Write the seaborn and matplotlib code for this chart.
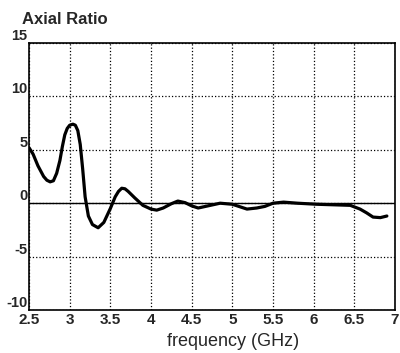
import matplotlib
matplotlib.use("Agg")
import matplotlib.pyplot as plt
import seaborn as sns
import pandas as pd

freq = [2.5, 2.55, 2.61, 2.68, 2.72, 2.76, 2.8, 2.84, 2.88, 2.91, 2.94, 2.97, 3.0, 3.04, 3.07,
        3.1, 3.13, 3.16, 3.19, 3.23, 3.28, 3.35, 3.42, 3.5, 3.56, 3.6, 3.64, 3.68, 3.72, 3.8,
        3.9, 4.0, 4.07, 4.15, 4.25, 4.33, 4.42, 4.5, 4.58, 4.7, 4.85, 5.0, 5.1, 5.18, 5.3,
        5.4, 5.5, 5.63, 5.8, 6.04, 6.25, 6.45, 6.57, 6.65, 6.73, 6.82, 6.9]
axial_ratio = [5.2, 4.6, 3.5, 2.5, 2.15, 2.0, 2.1, 2.8, 4.0, 5.3, 6.4, 7.0, 7.3, 7.4, 7.3,
               6.8, 5.5, 3.2, 0.6, -1.2, -2.0, -2.3, -1.8, -0.5, 0.6, 1.1, 1.4, 1.35, 1.1, 0.5,
               -0.2, -0.55, -0.65, -0.45, -0.05, 0.2, 0.05, -0.25, -0.45, -0.25, 0.0, -0.1, -0.35, -0.55, -0.45,
               -0.3, 0.0, 0.1, 0.0, -0.1, -0.15, -0.2, -0.55, -0.9, -1.3, -1.35, -1.2]
x_ticks = [2.5, 3, 3.5, 4, 4.5, 5, 5.5, 6, 6.5, 7]
x_tick_labels = ["2.5", "3", "3.5", "4", "4.5", "5", "5.5", "6", "6.5", "7"]
y_ticks = [-10, -5, 0, 5, 10, 15]
y_tick_labels = ["-10", "-5", "0", "5", "10", "15"]

sns.set_style("white")
plt.rcParams["font.family"] = ["Liberation Sans", "DejaVu Sans"]

df = pd.DataFrame({"freq": freq, "ar": axial_ratio})

fig = plt.figure(figsize=(4.0, 3.53), dpi=100)
ax = fig.add_axes([29 / 400, 1 - 310 / 353, 366 / 400, 267 / 353])

ax.axhline(0, color="black", lw=1.0, zorder=1)
sns.lineplot(data=df, x="freq", y="ar", ax=ax, color="black", lw=2.3, zorder=3)

ax.set_xlim(2.5, 7)
ax.set_ylim(-10, 15)
ax.set_xticks(x_ticks)
ax.set_xticklabels(x_tick_labels, fontsize=11, fontweight="bold")
ax.set_yticks(y_ticks)
ax.set_yticklabels(y_tick_labels, fontsize=10.5, fontweight="bold", va="bottom")
ax.tick_params(axis="x", length=0, pad=2)
ax.tick_params(axis="y", length=0, pad=1)
ax.grid(True, color="black", linestyle=":", lw=0.9)
for s in ax.spines.values():
    s.set_color("black")
    s.set_linewidth(1.2)

ax.set_xlabel("frequency (GHz)", fontsize=13)
ax.xaxis.set_label_coords((233 - 29) / 366, -0.085)
ax.set_ylabel("")
fig.text(22 / 400, 1 - 24 / 353, "Axial Ratio", fontsize=12, fontweight="bold",
         ha="left", va="baseline")

fig.savefig("out.png", dpi=100, facecolor="white")
